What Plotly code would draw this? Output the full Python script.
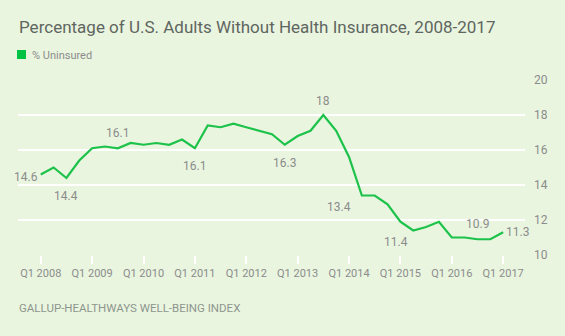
import plotly.graph_objects as go

years = list(range(2008, 2018))
quarters = [f"Q{q} {y}" for y in years for q in range(1, 5)][:37]
uninsured = [14.6, 15.0, 14.4, 15.4,
             16.1, 16.2, 16.1, 16.4,
             16.3, 16.4, 16.3, 16.6,
             16.1, 17.4, 17.3, 17.5,
             17.3, 17.1, 16.9, 16.3,
             16.8, 17.1, 18.0, 17.1,
             15.6, 13.4, 13.4, 12.9,
             11.9, 11.4, 11.6, 11.9,
             11.0, 11.0, 10.9, 10.9,
             11.3]
tick_labels = [f"Q1 {y}" for y in years]
y_ticks = [10, 12, 14, 16, 18, 20]

# labelled points: (quarter, text, xanchor, yanchor, xshift, yshift)
labels = [
    ("Q1 2008", "14.6", "right", "middle", -1, -2),
    ("Q3 2008", "14.4", "center", "top", 0, -9),
    ("Q3 2009", "16.1", "center", "bottom", 0, 6),
    ("Q1 2011", "16.1", "center", "top", 0, -9),
    ("Q4 2012", "16.3", "center", "top", 0, -9),
    ("Q3 2013", "18", "center", "bottom", 0, 5),
    ("Q2 2014", "13.4", "right", "top", -9, -2),
    ("Q2 2015", "11.4", "right", "top", -3, -2),
    ("Q3 2016", "10.9", "center", "bottom", 0, 6),
    ("Q1 2017", "11.3", "left", "middle", 1, 0),
]

GREEN = "#1cc24a"
GRAY = "#8c8c8c"
BG = "#e9f5df"
FONT = "Roboto, Arial, sans-serif"

fig = go.Figure()
fig.add_trace(go.Scatter(
    x=quarters, y=uninsured, mode="lines",
    line=dict(color=GREEN, width=2.2), name="% Uninsured",
    showlegend=False, hoverinfo="x+y",
))

for q, txt, xa, ya, xs, ys in labels:
    fig.add_annotation(
        x=q, y=uninsured[quarters.index(q)], text=txt, showarrow=False,
        xanchor=xa, yanchor=ya, xshift=xs, yshift=ys,
        font=dict(family=FONT, size=12, color=GRAY),
    )

# title
fig.add_annotation(
    xref="paper", yref="paper", x=-0.002, y=1.0, yshift=53, xanchor="left", yanchor="middle",
    text="Percentage of U.S. Adults Without Health Insurance, 2008-2017", showarrow=False,
    font=dict(family=FONT, size=17, color="#5f665f"),
)
# legend marker (square) and label
fig.add_shape(
    type="rect", xref="paper", yref="paper",
    xsizemode="pixel", ysizemode="pixel", xanchor=0, yanchor=1,
    x0=-1, x1=8, y0=21, y1=30,
    fillcolor="#00c243", line=dict(width=0),
)
fig.add_annotation(
    xref="paper", yref="paper", x=0, y=1.0, xshift=12, yshift=25, xanchor="left", yanchor="middle",
    text="% Uninsured", showarrow=False,
    font=dict(family=FONT, size=11, color=GRAY),
)
# source
fig.add_annotation(
    xref="paper", yref="paper", x=-0.002, y=0.0, yshift=-53, xanchor="left", yanchor="middle",
    text="GALLUP-HEALTHWAYS WELL-BEING INDEX", showarrow=False,
    font=dict(family=FONT, size=11.5, color="#8e958e"),
)

fig.update_layout(
    width=565, height=336,
    margin=dict(l=18, r=40, t=80, b=81),
    paper_bgcolor=BG, plot_bgcolor=BG,
    showlegend=False,
    xaxis=dict(
        type="category", range=[-1.77, 37.7],
        tickmode="array", tickvals=[f"Q1 {y}" for y in years], ticktext=tick_labels,
        showgrid=False, zeroline=False, showline=False,
        ticks="outside", ticklen=8, tickwidth=2, tickcolor="white",
        tickfont=dict(family=FONT, size=11, color=GRAY),
    ),
    yaxis=dict(
        range=[10, 20], tickvals=y_ticks, side="right",
        showgrid=True, gridcolor="white", gridwidth=2,
        zeroline=False, showline=False, ticks="",
        ticklabelstandoff=8,
        tickfont=dict(family=FONT, size=12, color=GRAY),
    ),
)

fig.write_html("out.html")
